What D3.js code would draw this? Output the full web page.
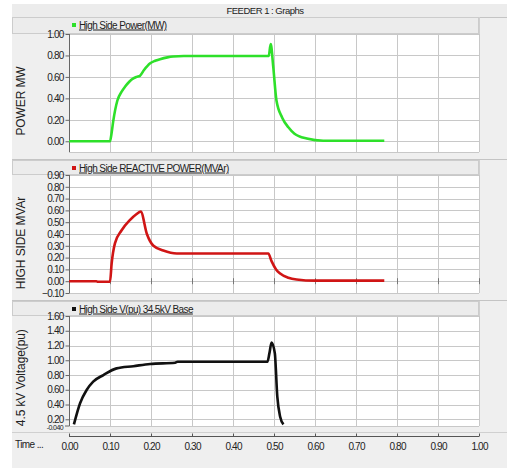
<!DOCTYPE html>
<html>
<head>
<meta charset="utf-8">
<title>FEEDER 1 : Graphs</title>
<script src="https://d3js.org/d3.v7.min.js"></script>
<style>
  body { margin: 0; background: #fff; }
  text { font-family: "Liberation Sans", Arial, sans-serif; fill: #222; }
</style>
</head>
<body>
<div id="chart"></div>
<script>
// ---- data ----
var timeTicks = [0, 0.1, 0.2, 0.3, 0.4, 0.5, 0.6, 0.7, 0.8, 0.9, 1.0];

var powerTime = [0, 0.10, 0.104, 0.108, 0.118, 0.128, 0.137, 0.147, 0.157, 0.165, 0.173, 0.183, 0.198, 0.21, 0.222, 0.24, 0.254, 0.28, 0.35, 0.487, 0.492, 0.498, 0.506, 0.52, 0.535, 0.55, 0.58, 0.62, 0.769];
var powerMW   = [0, 0, 0.08, 0.19, 0.38, 0.46, 0.51, 0.555, 0.586, 0.60, 0.61, 0.664, 0.727, 0.75, 0.765, 0.782, 0.79, 0.795, 0.795, 0.795, 0.906, 0.70, 0.38, 0.22, 0.13, 0.07, 0.025, 0.005, 0.005];
var powerTicks = [0, 0.2, 0.4, 0.6, 0.8, 1.0];

var reacTime = [0, 0.067, 0.07, 0.10, 0.104, 0.112, 0.128, 0.149, 0.165, 0.175, 0.19, 0.206, 0.23, 0.263, 0.3, 0.486, 0.494, 0.505, 0.515, 0.535, 0.555, 0.6, 0.769];
var reacMVAr = [0, 0, -0.005, -0.005, 0.15, 0.32, 0.43, 0.52, 0.57, 0.59, 0.40, 0.30, 0.26, 0.235, 0.235, 0.235, 0.17, 0.10, 0.065, 0.03, 0.015, 0.005, 0.005];
var reacTicks = [-0.1, 0, 0.1, 0.2, 0.3, 0.4, 0.5, 0.6, 0.7, 0.8, 0.9];

var voltTime = [0.012, 0.027, 0.043, 0.059, 0.084, 0.116, 0.157, 0.198, 0.259, 0.265, 0.484, 0.489, 0.494, 0.502, 0.508, 0.515, 0.523];
var voltPU   = [0.13, 0.417, 0.597, 0.71, 0.80, 0.89, 0.92, 0.95, 0.967, 0.98, 0.98, 1.10, 1.24, 1.095, 0.51, 0.235, 0.13];
var voltTicks = [0.2, 0.4, 0.6, 0.8, 1.0, 1.2, 1.4, 1.6];
var voltBottomLabel = "-0.040";

var W = 507, H = 468;
var svg = d3.select("#chart").append("svg").attr("width", W).attr("height", H);

// background
svg.append("rect").attr("x", 0).attr("y", 0).attr("width", W).attr("height", H).attr("fill", "#fff");
svg.append("rect").attr("x", 12).attr("y", 4).attr("width", W - 12).attr("height", H - 4).attr("fill", "#efefef");

// title bar
svg.append("rect").attr("x", 12).attr("y", 4).attr("width", W - 12).attr("height", 13).attr("fill", "#ececec");
svg.append("line").attr("x1", 12).attr("x2", W).attr("y1", 17.5).attr("y2", 17.5).attr("stroke", "#c4c4c4");
svg.append("text").attr("x", 265).attr("y", 14).attr("text-anchor", "middle")
  .attr("font-size", 9.5).attr("letter-spacing", -0.5).text("FEEDER 1 : Graphs");

var x = d3.scaleLinear().domain([0, 1]).range([69, 479]);

function panel(opt) {
  var g = svg.append("g");
  var y = d3.scaleLinear().domain(opt.domain).range([opt.bottom, opt.top]);

  // header band
  g.append("rect").attr("x", 12.5).attr("y", opt.head + 0.5).attr("width", 466).attr("height", opt.top - opt.head - 1)
    .attr("fill", "#ececec").attr("stroke", "#cccccc");
  // right strip border
  g.append("line").attr("x1", 479.5).attr("x2", 479.5).attr("y1", opt.head).attr("y2", opt.bottom)
    .attr("stroke", "#d0d0d0");

  // plot area
  g.append("rect").attr("x", 69).attr("y", opt.top).attr("width", 410).attr("height", opt.bottom - opt.top)
    .attr("fill", "#fff");

  // grid
  g.selectAll(".hg").data(opt.ticks).enter().append("line")
    .attr("x1", 69).attr("x2", 479)
    .attr("y1", function(d) { return Math.round(y(d)) + 0.5; })
    .attr("y2", function(d) { return Math.round(y(d)) + 0.5; })
    .attr("stroke", "#c8c8c8");
  g.selectAll(".vg").data(timeTicks.slice(1)).enter().append("line")
    .attr("x1", function(d) { return Math.round(x(d)) + 0.5; })
    .attr("x2", function(d) { return Math.round(x(d)) + 0.5; })
    .attr("y1", opt.top).attr("y2", opt.bottom)
    .attr("stroke", "#c8c8c8");
  g.append("line").attr("x1", 69).attr("x2", 479).attr("y1", opt.bottom + 0.5).attr("y2", opt.bottom + 0.5)
    .attr("stroke", "#c8c8c8");

  // y axis
  var ax = d3.axisLeft(y).tickValues(opt.ticks).tickSize(4).tickPadding(2)
    .tickFormat(d3.format(".2f"));
  var axg = g.append("g").attr("transform", "translate(69.5,0)").call(ax);
  axg.select(".domain").attr("stroke", "#666").attr("d", "M0," + opt.top + "V" + opt.bottom);
  axg.selectAll(".tick line").attr("stroke", "#666");
  axg.selectAll(".tick text").attr("font-size", 10).attr("letter-spacing", -0.8)
    .attr("fill", "#222").attr("font-family", "Liberation Sans, Arial, sans-serif");
  if (opt.bottomLabel) {
    g.append("text").attr("x", 63).attr("y", opt.bottom + 4).attr("text-anchor", "end")
      .attr("font-size", 7).attr("letter-spacing", -0.6).text(opt.bottomLabel);
    g.append("line").attr("x1", 65).attr("x2", 69).attr("y1", opt.bottom).attr("y2", opt.bottom).attr("stroke", "#666");
  }
  if (opt.zeroTicks) {
    g.selectAll(".zt").data(timeTicks.slice(1)).enter().append("line")
      .attr("x1", function(d) { return Math.round(x(d)) + 0.5; })
      .attr("x2", function(d) { return Math.round(x(d)) + 0.5; })
      .attr("y1", y(0) - 3).attr("y2", y(0) + 3)
      .attr("stroke", "#777");
  }

  // y title (clipped to the plot's height)
  var cid = "clip" + opt.head;
  svg.append("clipPath").attr("id", cid).append("rect")
    .attr("x", 0).attr("y", opt.top).attr("width", 60).attr("height", opt.bottom - opt.top);
  g.append("g").attr("clip-path", "url(#" + cid + ")")
    .append("text")
    .attr("transform", "translate(" + 25 + "," + opt.titleY + ") rotate(-90)")
    .attr("text-anchor", "middle").attr("font-size", 12).attr("letter-spacing", -0.1)
    .text(opt.yTitle);

  // legend
  g.append("rect").attr("x", 72).attr("y", opt.head + 6).attr("width", 4).attr("height", 4).attr("fill", opt.color);
  g.append("text").attr("x", 79).attr("y", opt.head + 11.5).attr("font-size", 10)
    .attr("letter-spacing", -0.6).attr("text-decoration", "underline").text(opt.legend);

  // series
  var line = d3.line()
    .x(function(d, i) { return x(opt.xs[i]); })
    .y(function(d) { return y(d); })
    .curve(d3.curveMonotoneX);
  g.append("path").datum(opt.ys).attr("d", line)
    .attr("fill", "none").attr("stroke", opt.color).attr("stroke-width", 2.6)
    .attr("stroke-linejoin", "round");

  // separator
  if (opt.sep) {
    g.append("line").attr("x1", 12).attr("x2", W).attr("y1", opt.sep + 0.5).attr("y2", opt.sep + 0.5)
      .attr("stroke", "#c4c4c4");
  }
}

panel({ head: 17, top: 34, bottom: 152, sep: 159, domain: [-0.1, 1.0], ticks: powerTicks,
  xs: powerTime, ys: powerMW, color: "#2ee02a", legend: "High Side Power(MW)",
  yTitle: "POWER MW", titleY: 101 });

panel({ head: 160, top: 175, bottom: 293, sep: 300, domain: [-0.1, 0.9], ticks: reacTicks,
  xs: reacTime, ys: reacMVAr, color: "#d01515", legend: "High Side REACTIVE POWER(MVAr)",
  yTitle: "HIGH SIDE MVAr", titleY: 243, zeroTicks: true });

panel({ head: 301, top: 316, bottom: 426, domain: [0.109, 1.6], ticks: voltTicks,
  xs: voltTime, ys: voltPU, color: "#111", legend: "High Side V(pu) 34.5kV Base",
  yTitle: "34.5 kV Voltage(pu)", titleY: 381, bottomLabel: voltBottomLabel });

// bottom time axis
svg.append("line").attr("x1", 12).attr("x2", W).attr("y1", 432.5).attr("y2", 432.5).attr("stroke", "#d0d0d0");
var xAxis = d3.axisTop(x).tickValues(timeTicks).tickSize(3).tickFormat(d3.format(".2f"));
var xg = svg.append("g").attr("transform", "translate(0,436.5)").call(xAxis);
xg.select(".domain").attr("stroke", "#555").attr("d", "M69,0H479");
xg.selectAll(".tick line").attr("stroke", "#555");
xg.selectAll(".tick text").attr("y", 13).attr("dy", 0).attr("font-size", 10).attr("letter-spacing", -0.8)
  .attr("fill", "#222").attr("font-family", "Liberation Sans, Arial, sans-serif");
svg.append("text").attr("x", 15).attr("y", 448).attr("font-size", 10).attr("letter-spacing", -0.6).text("Time ...");
</script>
</body>
</html>
